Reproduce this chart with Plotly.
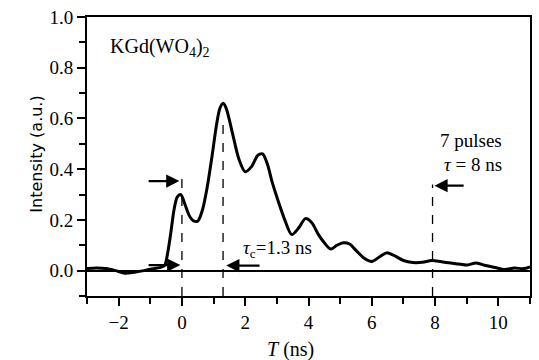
import plotly.graph_objects as go

# Time-resolved intensity of the pulse train in KGd(WO4)2
t_ns = [-3.0, -2.7, -2.4, -2.1, -1.8, -1.5, -1.2, -0.9, -0.7, -0.55, -0.45, -0.35,
        -0.25, -0.15, -0.04, 0.1, 0.22, 0.35, 0.5, 0.65, 0.8, 0.95, 1.1, 1.2, 1.3,
        1.4, 1.6, 1.8, 2.0, 2.2, 2.4, 2.55, 2.7, 2.85, 3.0, 3.25, 3.47, 3.7, 3.9,
        4.1, 4.3, 4.5, 4.7, 4.9, 5.1, 5.3, 5.5, 5.75, 6.0, 6.25, 6.47, 6.7, 7.0,
        7.3, 7.6, 7.9, 8.2, 8.5, 8.8, 9.0, 9.3, 9.6, 9.9, 10.2, 10.5, 10.8, 11.0]
intensity = [0.008, 0.01, 0.008, 0.0, -0.01, -0.006, 0.0, 0.008, 0.012, 0.02, 0.07,
             0.15, 0.24, 0.29, 0.30, 0.26, 0.22, 0.198, 0.195, 0.24, 0.33, 0.45,
             0.58, 0.64, 0.66, 0.64, 0.54, 0.44, 0.39, 0.41, 0.455, 0.46, 0.42,
             0.35, 0.29, 0.20, 0.142, 0.17, 0.205, 0.19, 0.145, 0.11, 0.085, 0.1,
             0.11, 0.105, 0.08, 0.05, 0.036, 0.055, 0.07, 0.06, 0.04, 0.032, 0.033,
             0.04, 0.035, 0.03, 0.025, 0.022, 0.03, 0.02, 0.012, 0.004, 0.01, 0.008,
             0.015]

# Markers: first pulse, main peak (tau_c), end of the 7-pulse train (tau)
first_pulse_t = 0.0
main_peak_t = 1.3
train_end_t = 7.92

SERIF = "Liberation Serif"
SANS = "DejaVu Sans"

fig = go.Figure()
fig.add_trace(go.Scatter(
    x=t_ns, y=intensity, mode="lines",
    line=dict(color="black", width=3, shape="spline", smoothing=0.8),
    showlegend=False, hoverinfo="skip",
))

dash = dict(color="black", width=1.3, dash="dash")
fig.add_shape(type="line", x0=first_pulse_t, x1=first_pulse_t, y0=-0.1, y1=0.365,
              line=dash, xref="x", yref="y")
fig.add_shape(type="line", x0=main_peak_t, x1=main_peak_t, y0=-0.1, y1=0.61,
              line=dash, xref="x", yref="y")
fig.add_shape(type="line", x0=train_end_t, x1=train_end_t, y0=-0.1, y1=0.34,
              line=dash, xref="x", yref="y")


def arrow(x_tail, x_head, y):
    fig.add_annotation(x=x_head, y=y, ax=x_tail, ay=y, xref="x", yref="y",
                       axref="x", ayref="y", text="", showarrow=True,
                       arrowhead=2, arrowsize=1.2, arrowwidth=2.2,
                       arrowcolor="black")


arrow(-1.1, first_pulse_t - 0.08, 0.353)
arrow(-1.1, first_pulse_t - 0.05, 0.022)
arrow(2.5, main_peak_t + 0.1, 0.02)
arrow(8.95, train_end_t + 0.06, 0.335)

fig.add_annotation(x=-2.35, y=0.88, xref="x", yref="y", xanchor="left",
                   text="KGd(WO<sub>4</sub>)<sub>2</sub>", showarrow=False,
                   font=dict(family=SERIF, size=20, color="black"))
fig.add_annotation(x=10.15, y=0.466, xref="x", yref="y", xanchor="right",
                   yanchor="bottom", borderpad=0,
                   text="7 pulses", showarrow=False,
                   font=dict(family=SERIF, size=19, color="black"))
fig.add_annotation(x=10.15, y=0.462, xref="x", yref="y", xanchor="right",
                   yanchor="top", borderpad=0,
                   text="<i>τ</i> = 8 ns", showarrow=False,
                   font=dict(family=SERIF, size=19, color="black"))
fig.add_annotation(x=1.88, y=0.086, xref="x", yref="y", xanchor="left",
                   text="<i>τ</i><sub>c</sub>=1.3 ns", showarrow=False,
                   font=dict(family=SERIF, size=19, color="black"))

# Axis titles
fig.add_annotation(x=(291 - 87) / 445, y=-0.19, xref="paper", yref="paper",
                   text="<i>T</i> (ns)", showarrow=False, yanchor="middle",
                   font=dict(family=SERIF, size=20, color="black"))
fig.add_annotation(x=-0.139, y=0.51, xref="paper", yref="paper",
                   text="Intensity (a.u.)", showarrow=False, textangle=-90,
                   font=dict(family=SANS, size=16, color="black"))

axis_common = dict(
    showline=True, linecolor="black", linewidth=2, mirror=True,
    ticks="outside", tickcolor="black", tickwidth=2, ticklen=8,
    showgrid=False,
    tickfont=dict(family=SERIF, size=19, color="black"),
)

fig.update_xaxes(range=[-3, 11], tick0=0, dtick=2, zeroline=False,
                 minor=dict(ticks="outside", dtick=1, ticklen=6, tickwidth=1.5,
                            tickcolor="black"),
                 **axis_common)
fig.update_yaxes(range=[-0.1, 1.0], tick0=0, dtick=0.2, tickformat=".1f",
                 zeroline=True, zerolinecolor="black", zerolinewidth=1.5,
                 minor=dict(ticks="outside", dtick=0.1, ticklen=6, tickwidth=1.5,
                            tickcolor="black"),
                 **axis_common)

fig.update_layout(
    width=539, height=360,
    margin=dict(l=87, r=7, t=11, b=64),
    paper_bgcolor="white", plot_bgcolor="white",
)

fig.write_html("out.html")
